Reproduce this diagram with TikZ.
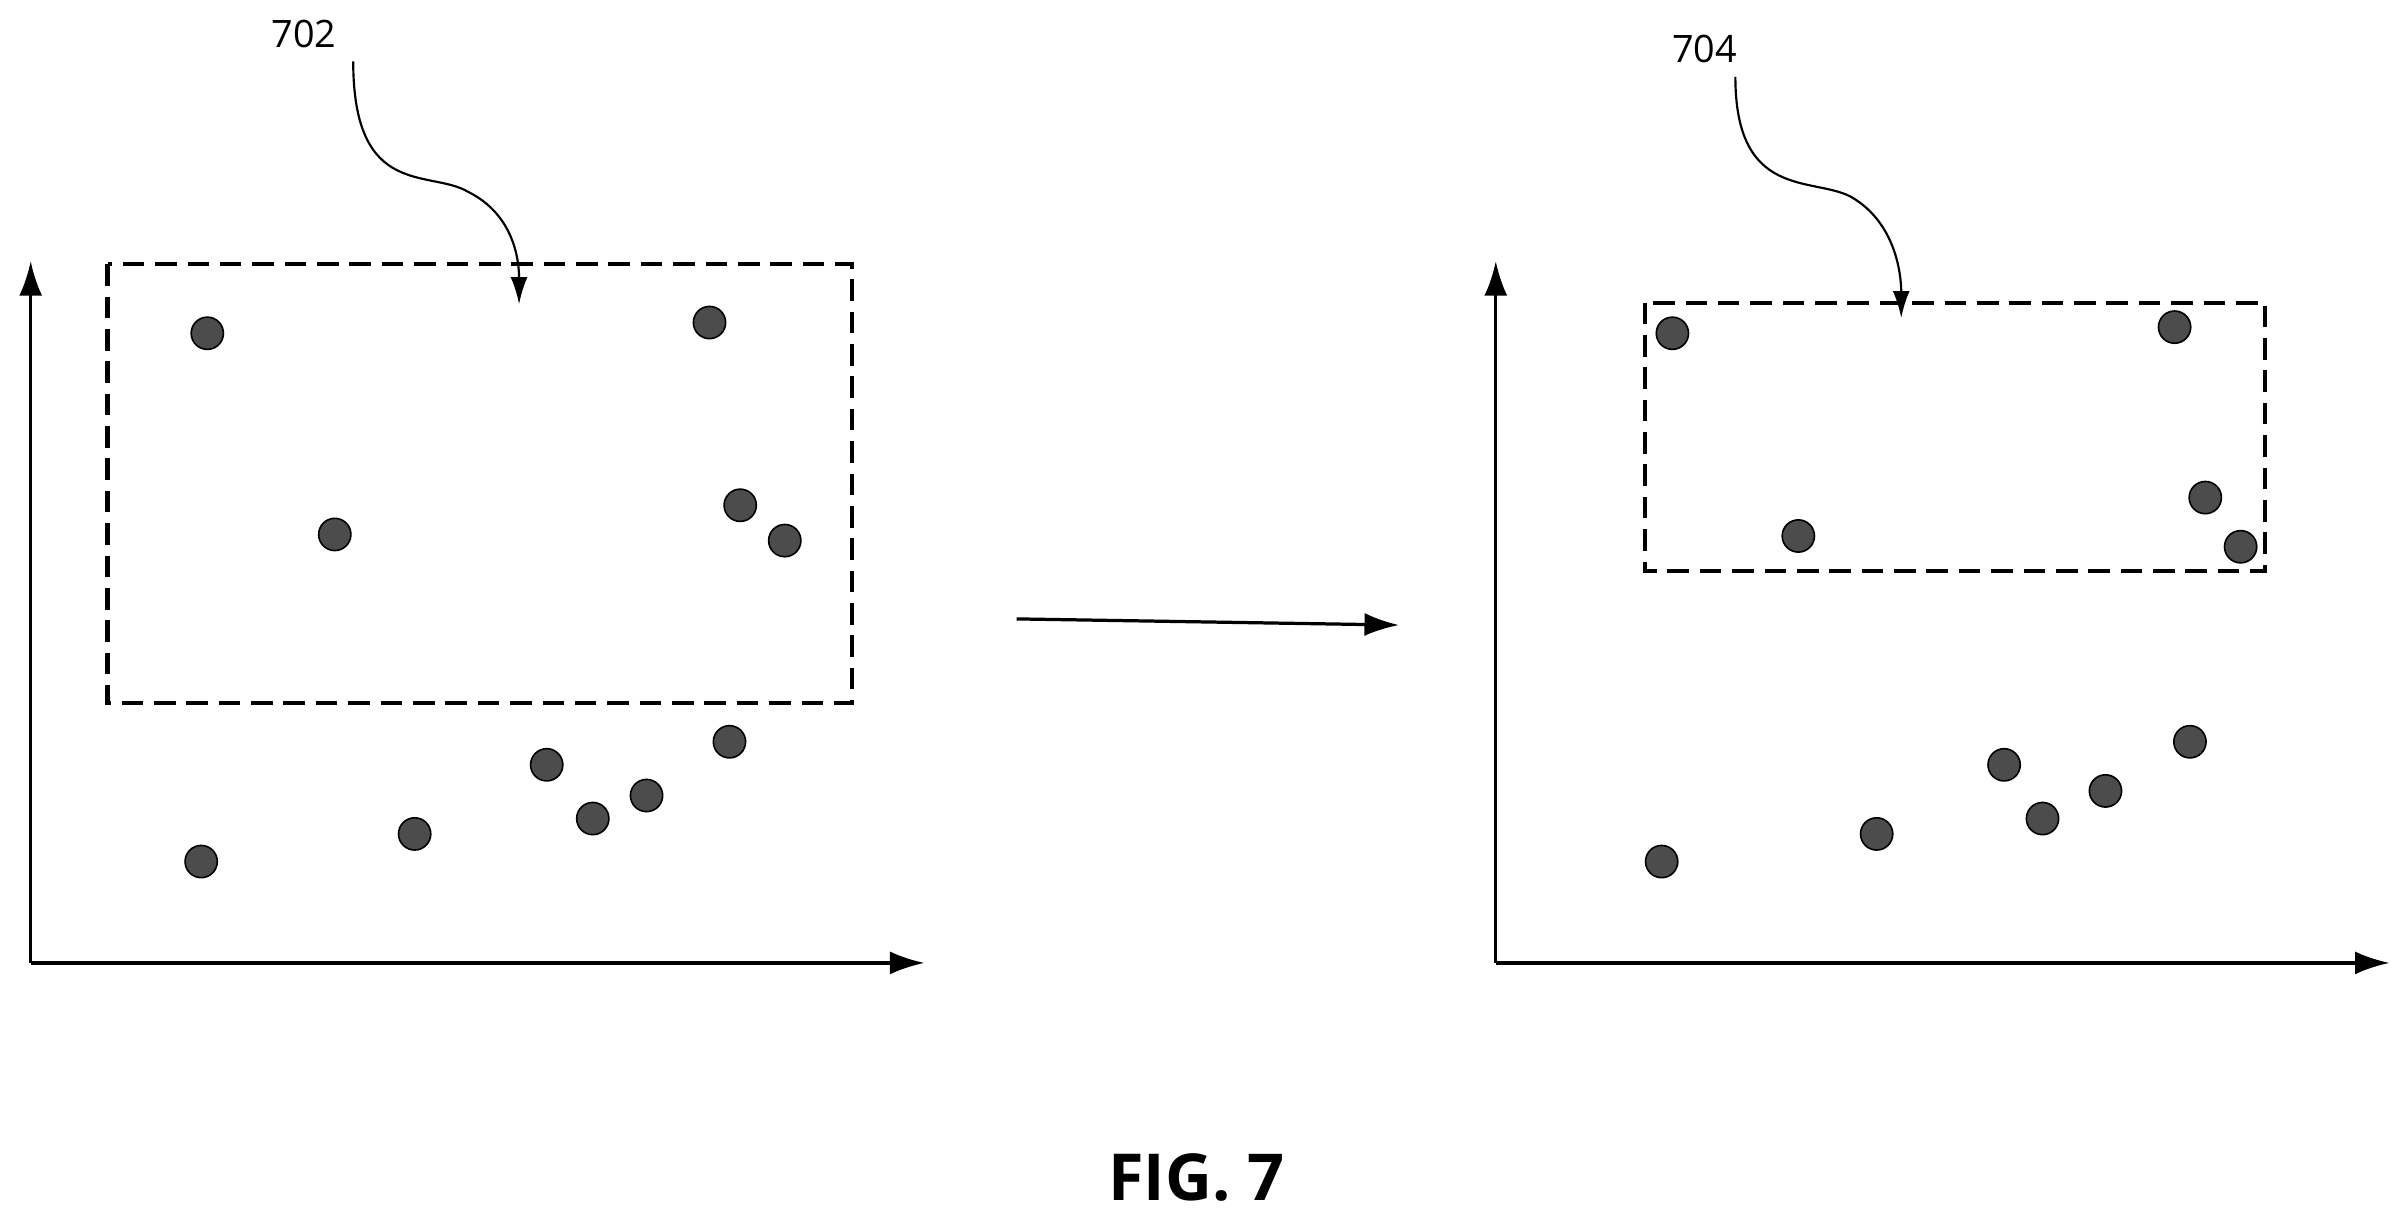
\documentclass[tikz,border=0pt]{standalone}
\usepackage{fontspec}
\setmainfont{Open Sans}
\usetikzlibrary{arrows.meta}
\tikzset{
  dot/.style={circle,fill=black!70,draw=black,line width=0.6pt,inner sep=0pt,minimum size=0.42cm},
  axis/.style={line width=1.2pt,-{Latex[length=0.45cm,width=0.3cm]}},
  box/.style={line width=1.5pt,dash pattern=on 8pt off 4pt},
  lead/.style={line width=0.8pt,-{Latex[length=0.35cm,width=0.22cm]}}
}
\begin{document}
\begin{tikzpicture}[x=0.02cm,y=-0.02cm]
  \useasboundingbox (0,0) rectangle (1568,796);
  % left plot
  \coordinate (o1) at (20,627);
  \coordinate (y1) at (20,170);
  \coordinate (x1) at (602,627);
  \draw[axis] (o1) -- (y1);
  \draw[axis] (o1) -- (x1);
  \draw[box] (70,172) rectangle (555,458);
  \foreach \p [count=\i] in {(135,217),(462,210),(218,348),(482,329),(511,352),(356,498),(386,533),(421,518),(475,483),(270,543),(131,561)}
    \node[dot] (a\i) at \p {};
  \node (l702) at (198,22) {\fontsize{14}{16}\selectfont 702};
  \coordinate (t702) at (338,198);
  \draw[lead] (230,40) .. controls (230,130) and (280,110) .. (305,125) .. controls (335,140) and (338,170) .. (t702);
  % right plot
  \coordinate (o2) at (974,627);
  \coordinate (y2) at (974,170);
  \coordinate (x2) at (1556,627);
  \draw[axis] (o2) -- (y2);
  \draw[axis] (o2) -- (x2);
  \draw[box] (1071,197) rectangle (1475,372);
  \foreach \p [count=\i] in {(1089,217),(1416,213),(1171,349),(1436,324),(1459,356),(1305,498),(1330,533),(1371,515),(1426,483),(1222,543),(1082,561)}
    \node[dot] (b\i) at \p {};
  \node (l704) at (1110,32) {\fontsize{14}{16}\selectfont 704};
  \coordinate (t704) at (1238,207);
  \draw[lead] (1130,50) .. controls (1130,130) and (1180,115) .. (1205,128) .. controls (1235,145) and (1238,180) .. (t704);
  % transition arrow
  \coordinate (m1) at (662,403);
  \coordinate (m2) at (911,407);
  \draw[axis] (m1) -- (m2);
  \node (fig) at (779,767) {\fontsize{24}{28}\selectfont\bfseries FIG. 7};
\end{tikzpicture}
\end{document}
